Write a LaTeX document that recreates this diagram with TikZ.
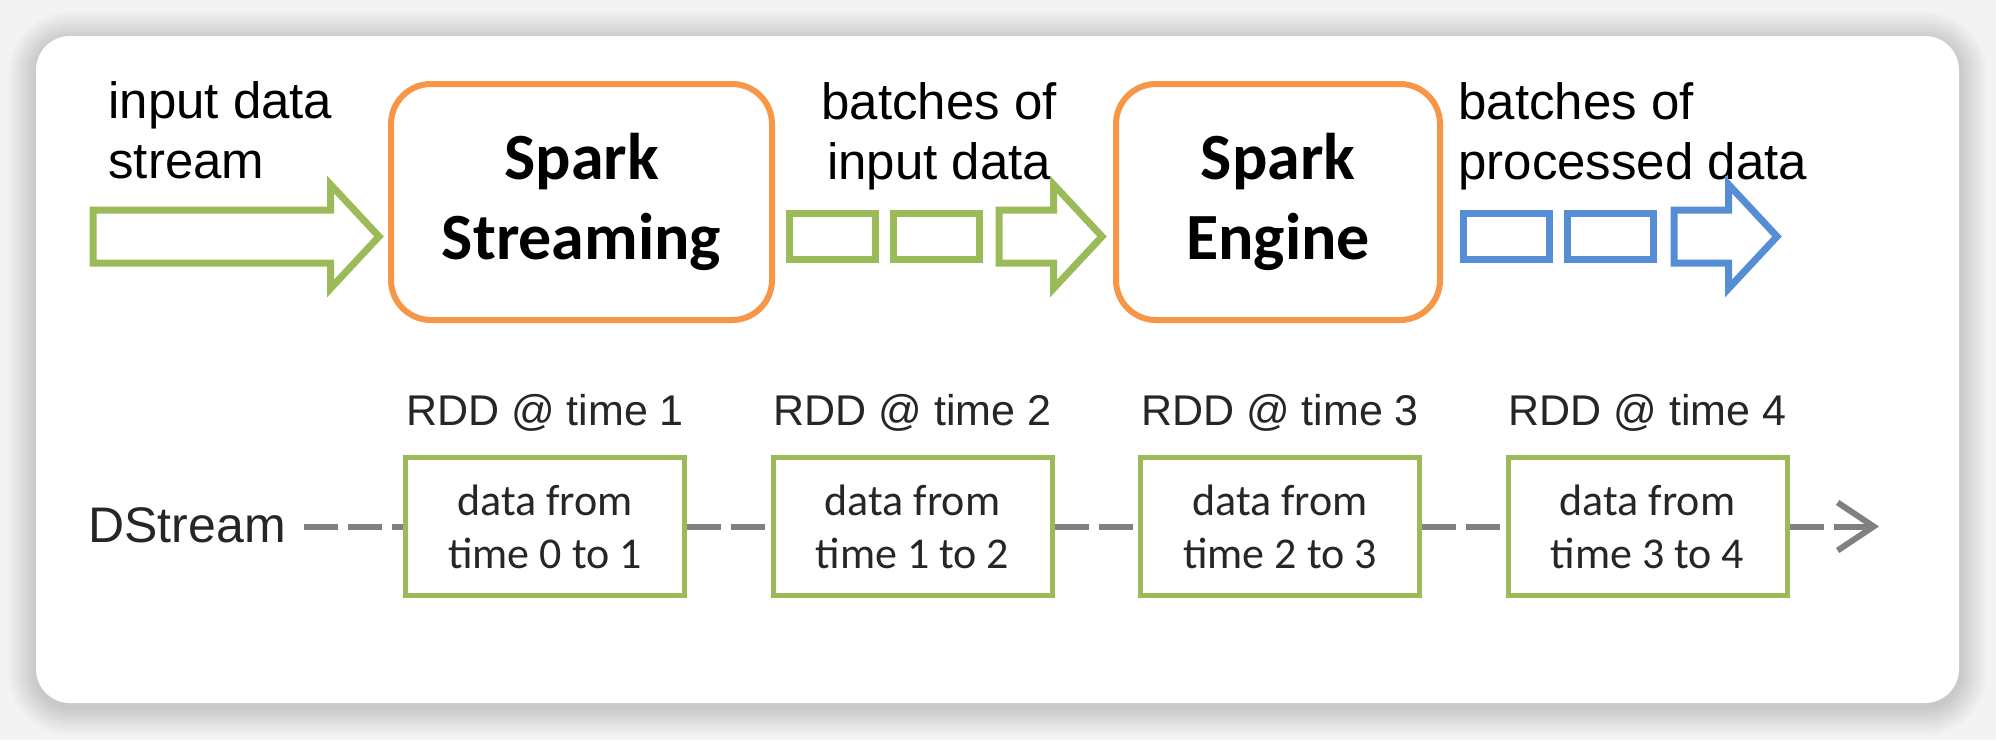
\documentclass[tikz,border=0pt]{standalone}
\usepackage{fontspec}
\setmainfont{Liberation Sans}
\newfontfamily\calibri{Carlito}
\usetikzlibrary{arrows.meta,shapes.arrows,positioning}

\definecolor{sparkorange}{HTML}{F79646}
\definecolor{batchgreen}{HTML}{9BBB59}
\definecolor{outblue}{HTML}{558ED5}
\definecolor{linegray}{HTML}{808080}
\definecolor{pagegray}{HTML}{F3F3F3}

\begin{document}
\begin{tikzpicture}[
        x=0.5pt, y=-0.5pt,
        every node/.style={inner sep=0pt},
        label text/.style={font=\fontsize{25.5pt}{30pt}\selectfont},
        spark/.style={draw=sparkorange, line width=3pt, rounded corners=20pt, minimum height=118pt,
            align=center, font=\calibri\bfseries\fontsize{33pt}{40pt}\selectfont},
        batch/.style={draw=#1, line width=3.5pt, minimum width=43pt, minimum height=23pt},
        flow/.style={single arrow, draw=#1, line width=3.5pt, line join=miter, inner ysep=11.5pt,
            single arrow head extend=12.75pt, single arrow tip angle=94, anchor=tail},
        rdd/.style={draw=batchgreen, line width=2.5pt, fill=white, minimum width=139.5pt, minimum height=69pt,
            align=center, text=black!85, font=\calibri\fontsize{22pt}{26.5pt}\selectfont},
        rdd label/.style={text=black!85, font=\fontsize{21.5pt}{26pt}\selectfont},
        stream text/.style={text=black!85, font=\fontsize{25pt}{30pt}\selectfont},
        dline/.style={draw=linegray, line width=3pt, dash pattern=on 17pt off 5pt}
    ]

    \useasboundingbox (0,0) rectangle (1996,740);

    % Card and its shadow
    \fill[pagegray] (0,0) rectangle (1996,740);
    \foreach \k [evaluate=\k as \r using 17+\k] in {1,...,14}
        \fill[black, opacity=0.011, rounded corners=\r pt] ({36-2*\k},{40-2*\k}) rectangle ({1959+2*\k},{707+2*\k});
    \fill[white, rounded corners=17pt] (36,36) rectangle (1959,703);

    % Nodes
    \node[label text, anchor=base west, align=left] (inlbl) at (108,178) {input data\\stream};
    \node[spark, minimum width=190.5pt] (streaming) at (581.5,202) {Spark\\Streaming};
    \node[label text, anchor=base, align=center] (batchlbl) at (939,179) {batches of\\input data};
    \node[spark, minimum width=162pt] (engine) at (1278,202) {Spark\\Engine};
    \node[label text, anchor=base west, align=left] (outlbl) at (1458,179) {batches of\\processed data};

    \node[batch=batchgreen] (in1) at (832,236) {};
    \node[batch=batchgreen] (in2) at (936,236) {};
    \node[batch=outblue] (out1) at (1506.5,236) {};
    \node[batch=outblue] (out2) at (1610.5,236) {};

    \node[flow=batchgreen, minimum height=143pt] (inflow) at (89.5,236.5) {};
    \node[flow=batchgreen, minimum height=51.5pt] (batchflow) at (995.5,236.5) {};
    \node[flow=outblue, minimum height=51.5pt] (outflow) at (1670.5,236.5) {};

    \node[stream text, anchor=base west, inner xsep=9pt] (dstream) at (70,542) {DStream};
    \foreach \i [evaluate=\i as \prev using int(\i-1)] in {1,...,4} {
        \node[rdd] (rdd\i) at ({545+367.5*(\i-1)},526.5) {data from\\time \prev{} to \i};
        \node[rdd label, anchor=base] (rddlbl\i) at ([yshift=14.75pt]rdd\i.north) {RDD @ time \i};
    }
    \coordinate (dend) at (1879,526.5);

    % Edges
    \draw[dline] (dstream.east |- rdd1.west) -- (rdd1.west);
    \foreach \i [evaluate=\i as \nxt using int(\i+1)] in {1,2,3}
        \draw[dline] (rdd\i) -- (rdd\nxt);
    \draw[dline, -{Straight Barb[length=18pt, width=24pt]}] (rdd4) -- (dend);

\end{tikzpicture}
\end{document}
